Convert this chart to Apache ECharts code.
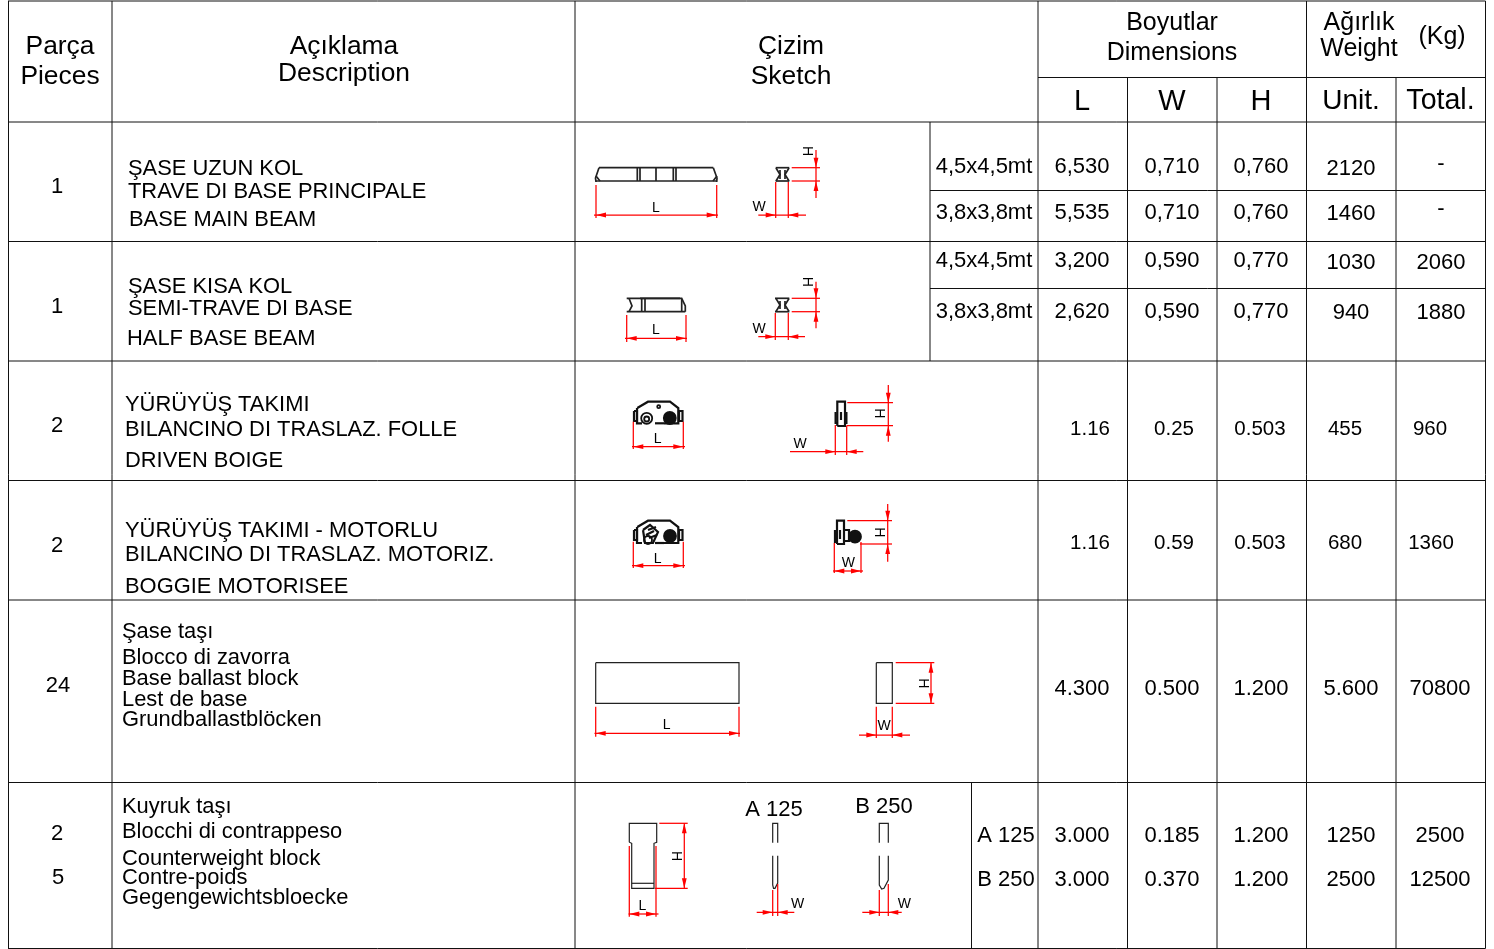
<!DOCTYPE html>
<html><head><meta charset="utf-8">
<style>html,body{margin:0;padding:0;background:#fff}#c{width:1494px;height:949px}</style>
<script src="https://cdn.jsdelivr.net/npm/echarts@6/dist/echarts.min.js"></script>
</head><body><div id="c"></div>
<script>
// ---- table content ----
const headers = ['Parça','Pieces','Açıklama','Description','Çizim','Sketch','Boyutlar','Dimensions','Ağırlık','Weight','(Kg)'];
const subHeaders = ['L','W','H','Unit.','Total.'];
const pieces = ['1','1','2','2','24','2','5'];
const descriptions = [
 'ŞASE UZUN KOL','TRAVE DI BASE PRINCIPALE','BASE MAIN BEAM',
 'ŞASE KISA KOL','SEMI-TRAVE DI BASE','HALF BASE BEAM',
 'YÜRÜYÜŞ TAKIMI','BILANCINO DI TRASLAZ. FOLLE','DRIVEN BOIGE',
 'YÜRÜYÜŞ TAKIMI - MOTORLU','BILANCINO DI TRASLAZ. MOTORIZ.','BOGGIE MOTORISEE',
 'Şase taşı','Blocco di zavorra','Base ballast block','Lest de base','Grundballastblöcken',
 'Kuyruk taşı','Blocchi di contrappeso','Counterweight block','Contre-poids','Gegengewichtsbloecke'];
const variants = ['4,5x4,5mt','3,8x3,8mt','4,5x4,5mt','3,8x3,8mt','A 125','B 250'];
const lengths = ['6,530','5,535','3,200','2,620','1.16','1.16','4.300','3.000','3.000'];
const widths  = ['0,710','0,710','0,590','0,590','0.25','0.59','0.500','0.185','0.370'];
const heights = ['0,760','0,760','0,770','0,770','0.503','0.503','1.200','1.200','1.200'];
const unitKg  = ['2120','1460','1030','940','455','680','5.600','1250','2500'];
const totalKg = ['-','-','2060','1880','960','1360','70800','2500','12500'];
const sketchCaptions = ['A 125','B 250'];

// ---- layout (page pixels) ----
const headerPos = [[60,46.5],[60,76.5],[344,46.5],[344,73.5],[791,46.5],[791,76.5],[1172,23.5],[1172,53.5],[1359,23.5],[1359,49.5],[1442,37.5]];
const headerSize = [26.4,26.4,26.4,26.4,26.4,26.4,25,25,25,25,25];
const subHeaderPos = [[1082,101.5],[1172,101.5],[1261,101.5],[1351,101.5],[1440.5,101.5]];
const subHeaderSize = [29,29,29,28,28.6];
const piecePos = [[57,187],[57,307],[57,426],[57,546],[58,686],[57,834],[58,878]];
const descPos = [[128,168.5],[128,191.5],[129,219.5],[128,286.5],[128,308.5],[127,338.5],[125,404.5],[125,429.5],[125,460.5],[125,530.5],[125,554.5],[125,586.5],
 [122,631.5],[122,657.5],[122,678.5],[122,699.5],[122,719.5],[122,806.5],[122,831.5],[122,858.5],[122,877.5],[122,897.5]];
const variantPos = [[984,167],[984,213],[984,261],[984,312],[1006,835.5],[1006,879.5]];
const rowCols = [
 {y:[167,167,167,169,164],x:[1082,1172,1261,1351,1441],s:22},
 {y:[213,213,213,214,209],x:[1082,1172,1261,1351,1441],s:22},
 {y:[261,261,261,263,263],x:[1082,1172,1261,1351,1441],s:22},
 {y:[312,312,312,313,313],x:[1082,1172,1261,1351,1441],s:22},
 {y:[429,429,429,429,429],x:[1090,1174,1260,1345,1430],s:20.5},
 {y:[543,543,543,543,543],x:[1090,1174,1260,1345,1431],s:20.5},
 {y:[689,689,689,689,689],x:[1082,1172,1261,1351,1440],s:22},
 {y:[836,836,836,836,836],x:[1082,1172,1261,1351,1440],s:22},
 {y:[879.5,879.5,879.5,879.5,879.5],x:[1082,1172,1261,1351,1440],s:22}];
const captionPos = [[774,810],[884,806.5]];
const dimLabels = [['L',656,208.2,0],['W',759,207.2,0],['H',807.3,151,90],
 ['L',656,330.5,0],['W',759,328.8,0],['H',807.3,281.7,90],
 ['L',657.7,438.8,0],['W',800,443.8,0],['H',879.3,413.3,90],
 ['L',657.7,558.8,0],['W',848.3,562.8,0],['H',879.3,532.3,90],
 ['L',666.7,725.5,0],['W',884,726.5,0],['H',922.7,683.3,90],
 ['L',642.3,906.5,0],['H',675.7,856,90],['W',797.7,904.5,0],['W',904.3,904.5,0]];

// table rules: [x1,y1,x2,y2]
const rules = [
 [8,1,1485.5,1],[8,122,1485.5,122],[8,241.5,1485.5,241.5],[8,361,1485.5,361],[8,480.5,1485.5,480.5],[8,600,1485.5,600],[8,782.5,1485.5,782.5],[8,948.5,1485.5,948.5],
 [1038,77.5,1485.5,77.5],[930,190.5,1485.5,190.5],[930,288.5,1485.5,288.5],
 [8.5,1,8.5,948.5],[112,1,112,948.5],[575,1,575,948.5],[1038,1,1038,948.5],[1306.5,1,1306.5,948.5],[1485.5,1,1485.5,948.5],
 [930,122,930,361],[971.5,782.5,971.5,948.5],[1127.5,77.5,1127.5,948.5],[1217,77.5,1217,948.5],[1396,77.5,1396,948.5]];

// sketch outlines, grouped by line weight
const fineLines = [
 // ballast block
 [[595.7,662.7],[739,662.7],[739,703.3],[595.7,703.3],[595.7,662.7]],
 [[876.3,662.7],[892.3,662.7],[892.3,703.3],[876.3,703.3],[876.3,662.7]],
 // counterweight
 [[629.3,842.3],[629.3,823.3],[656.7,823.3],[656.7,842.3],[654,843.3],[654,888.3],[631.7,888.3],[631.7,843.3],[629.3,842.3]],[[631.7,883.3],[654,883.3]],
 [[772.7,842.7],[772.7,823.3],[777.7,823.3],[777.7,842.7]],[[772.7,855.7],[772.7,885],[773.5,888.3],[775,888.3],[777.7,883],[777.7,855.7]],
 [[879.3,842.7],[879.3,823.3],[888.3,823.3],[888.3,842.7]],[[879.3,855.7],[879.3,885],[881.7,889],[884,888.3],[888.3,880],[888.3,855.7]]];
const mediumLines = [
 // main beam
 [[599,167.7],[713.3,167.7]],[[596,181],[716.7,181]],[[599,167.7],[595.5,178],[596,182]],[[713.3,167.7],[717,178],[716.7,182]],
 [[637.3,167],[637.3,181]],[[640,167],[640,181]],[[656,168],[656,181]],[[673.3,167],[673.3,181]],[[676,167],[676,181]],[[596,176],[600,181]],[[717,176],[713,181]],
 [[775.7,167.7],[789.3,167.7]],[[775.7,181],[789.3,181]],[[776,168],[780,174.5],[776,181]],[[789,168],[785,174.5],[789,181]],[[780,170],[780,179]],[[785,170],[785,179]],
 // half beam
 [[626.7,298.3],[680,298.3]],[[626.7,311.7],[685.3,311.7]],[[640,298.3],[681.7,298.3],[685.3,306],[685.3,311.7]],[[629,298.3],[632,306],[629,311.7]],
 [[641.7,298.3],[641.7,311.7]],[[645,298.3],[645,311.7]],[[681.7,299],[681.7,311.7]],
 [[775,298.3],[789.3,298.3]],[[775,311.7],[789.3,311.7]],[[776,298.5],[780,305],[776,311.5]],[[789,298.5],[785,305],[789,311.5]],[[780,301],[780,309]],[[785,301],[785,309]]];
const heavyLines = [
 // driven bogie
 [[637.3,408],[648,401.7],[670,401.7],[678.3,408],[678.3,423.3],[664,423.3]],[[637,408],[637,423.3],[642,423.3]],[[655,423.3],[664,423.3]],
 [[634,411],[637,411],[637,421],[634,421],[634,411]],[[679,411],[682.5,411],[682.5,421],[679,421],[679,411]],
 [[837.3,426],[837.3,401.7],[845,401.7],[845,426],[837.3,426]],[[835.6,412],[835.6,423],[837.3,423]],[[846.4,412],[846.4,423],[845,423]],[[841,412],[841,420]],
 // motor bogie
 [[637.3,527],[648,520.7],[670,520.7],[678.3,527],[678.3,543],[664,543]],[[637,527],[637,543],[642,543]],[[655,543],[664,543]],
 [[634,530],[637,530],[637,540],[634,540],[634,530]],[[679,530],[682.5,530],[682.5,540],[679,540],[679,530]],
 [[643,530],[650,525],[658,532],[653,543],[645,543],[643,530]],[[648,530],[656,527]],[[646,535],[654,531]],[[649,538],[657,535]],
 [[837,544],[837,520.7],[844,520.7],[844,544],[837,544]],[[835,530],[835,542],[837,542]],[[844,530],[849,530],[849,541],[844,541]],[[840,530],[840,539]]];
const sketchCircles = [[646.7,418.3,5.5,0],[646.7,419,2.5,0],[669.8,418,6,1],[658.7,406.7,1.5,0],[670,536,6,1],[648,540,4,0],[855,536.7,6,1]];

const redLines = [
 // main beam
 [[596,185],[596,218]],[[716.7,185],[716.7,218]],[[594,215],[718,215]],
 [[775.7,182],[775.7,218]],[[788.3,182],[788.3,218]],[[758.3,215],[806,215]],
 [[791.7,167.7],[820,167.7]],[[791.7,181],[820,181]],[[816,150],[816,198]],
 // half beam
 [[626.7,315],[626.7,342]],[[686,315],[686,342]],[[625,338.3],[687,338.3]],
 [[775.3,313],[775.3,340]],[[788.3,313],[788.3,340]],[[758.3,336.7],[805,336.7]],
 [[791.7,298.3],[820,298.3]],[[791.7,311.7],[820,311.7]],[[816,281.7],[816,328.3]],
 // driven bogie
 [[633.3,421.7],[633.3,449]],[[683.3,421.7],[683.3,449]],[[632,446.7],[685,446.7]],
 [[835.3,425],[835.3,455]],[[846.7,425.7],[846.7,455]],[[790,451.7],[863.3,451.7]],
 [[847.3,402.7],[893,402.7]],[[846.7,425.7],[893,425.7]],[[888.3,385],[888.3,441.7]],
 // motor bogie
 [[633.3,541.7],[633.3,568]],[[683.3,541.7],[683.3,568]],[[632,565.7],[685,565.7]],
 [[834.3,543],[834.3,573]],[[861,542],[861,573]],[[833,571],[863,571]],
 [[847.3,520.7],[892,520.7]],[[860,544],[892,544]],[[887.7,504],[887.7,561.7]],
 // ballast block
 [[595.7,706.7],[595.7,736.7]],[[739,706.7],[739,736.7]],[[594.5,733.3],[740,733.3]],
 [[876.3,706.7],[876.3,738]],[[892.3,706.7],[892.3,738]],[[859,735],[910,735]],
 [[895.7,662.7],[934.3,662.7]],[[895.7,703.3],[934.3,703.3]],[[931,662.7],[931,703.3]],
 // counterweight
 [[629.3,846],[629.3,916.7]],[[656,846],[656,916.7]],[[628.5,914],[658.5,914]],
 [[659.3,823.3],[687.7,823.3]],[[655,888.3],[687.7,888.3]],[[684.3,823.3],[684.3,888.3]],
 [[772.7,890],[772.7,916]],[[777.7,884],[777.7,916]],[[756.7,912.3],[794.3,912.3]],
 [[879.3,890],[879.3,916]],[[888.3,884],[888.3,916]],[[862.3,912.3],[901.7,912.3]]];
// arrows: tip x, tip y, direction x, direction y
const redArrows = [
 [596,215,1,0],[716.7,215,-1,0],[775.7,215,-1,0],[788.3,215,1,0],[816,167.7,0,-1],[816,181,0,1],
 [626.7,338.3,1,0],[686,338.3,-1,0],[775.3,336.7,-1,0],[788.3,336.7,1,0],[816,298.3,0,-1],[816,311.7,0,1],
 [633.3,446.7,1,0],[683.3,446.7,-1,0],[835.3,451.7,-1,0],[846.7,451.7,1,0],[888.3,402.7,0,-1],[888.3,425.7,0,1],
 [633.3,565.7,1,0],[683.3,565.7,-1,0],[834.3,571,1,0],[861,571,-1,0],[887.7,520.7,0,-1],[887.7,544,0,1],
 [595.7,733.3,1,0],[739,733.3,-1,0],[876.3,735,-1,0],[892.3,735,1,0],[931,662.7,0,1],[931,703.3,0,-1],
 [629.3,914,1,0],[656,914,-1,0],[684.3,823.3,0,1],[684.3,888.3,0,-1],[772.7,912.3,-1,0],[777.7,912.3,1,0],[879.3,912.3,-1,0],[888.3,912.3,1,0]];

// ---- assemble text items ----
const texts = [];
const add = (t,p,size,align,rot) => texts.push({t,x:p[0],y:p[1],size,align:align||'center',rot:rot||0});
headers.forEach((t,i)=>add(t,headerPos[i],headerSize[i]));
subHeaders.forEach((t,i)=>add(t,subHeaderPos[i],subHeaderSize[i]));
pieces.forEach((t,i)=>add(t,piecePos[i],22));
descriptions.forEach((t,i)=>add(t,descPos[i],21.9,'left'));
variants.forEach((t,i)=>add(t,variantPos[i],22));
[lengths,widths,heights,unitKg,totalKg].forEach((col,c)=>col.forEach((t,r)=>add(t,[rowCols[r].x[c],rowCols[r].y[c]],rowCols[r].s)));
sketchCaptions.forEach((t,i)=>add(t,captionPos[i],22));
dimLabels.forEach(d=>add(d[0],[d[1],d[2]],14,'center',d[3]));

const idx = a => a.map((_,i)=>[i]);
const lineItem = (api,pts,color,w) => ({type:'polyline',shape:{points:pts.map(q=>api.coord(q))},style:{stroke:color,lineWidth:w,fill:null},silent:true});
const lineSeries = (list,color,w) => ({type:'custom',clip:false,silent:true,data:idx(list),renderItem:(p,api)=>lineItem(api,list[p.dataIndex],color,w)});
const chart = echarts.init(document.getElementById('c'),null,{renderer:'canvas'});
chart.setOption({
 animation:false,
 backgroundColor:'#fff',
 grid:{left:0,right:0,top:0,bottom:0},
 xAxis:{type:'value',min:0,max:1494,show:false},
 yAxis:{type:'value',min:0,max:949,inverse:true,show:false},
 tooltip:{show:false},
 series:[
  {type:'custom',clip:false,silent:true,data:idx(rules),renderItem:(p,api)=>{const r=rules[p.dataIndex];return lineItem(api,[[r[0],r[1]],[r[2],r[3]]],'#111',1);}},
  lineSeries(fineLines,'#222',1.2),
  lineSeries(mediumLines,'#222',1.7),
  lineSeries(heavyLines,'#111',2.2),
  {type:'custom',clip:false,silent:true,data:idx(sketchCircles),renderItem:(p,api)=>{const c=sketchCircles[p.dataIndex],q=api.coord([c[0],c[1]]);return {type:'circle',shape:{cx:q[0],cy:q[1],r:c[2]},style:{fill:c[3]?'#111':'none',stroke:'#111',lineWidth:1.8},silent:true};}},
  lineSeries(redLines,'#f00',1.25),
  {type:'custom',clip:false,silent:true,data:idx(redArrows),renderItem:(p,api)=>{const a=redArrows[p.dataIndex],L=10,H=2.4,dx=a[2],dy=a[3];
    const pts=[[a[0],a[1]],[a[0]+dx*L-dy*H,a[1]+dy*L-dx*H],[a[0]+dx*L+dy*H,a[1]+dy*L+dx*H]].map(q=>api.coord(q));
    return {type:'polygon',shape:{points:pts},style:{fill:'#f00'},silent:true};}},
  {type:'custom',clip:false,silent:true,data:idx(texts),renderItem:(p,api)=>{const d=texts[p.dataIndex],q=api.coord([d.x,d.y]);
    return {type:'text',x:q[0],y:q[1],rotation:-d.rot*Math.PI/180,style:{text:d.t,fill:'#000',font:d.size+'px "Liberation Sans", Arial, sans-serif',textAlign:d.align,textVerticalAlign:'middle'},silent:true};}}
 ]
});
</script></body></html>
